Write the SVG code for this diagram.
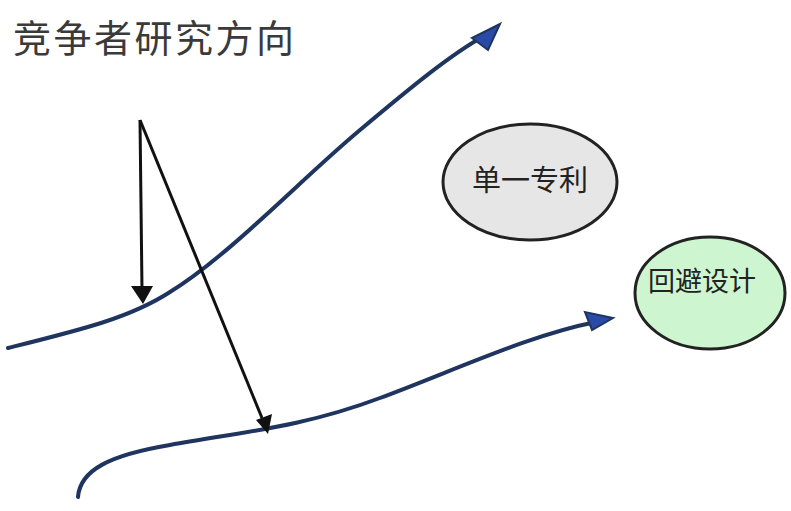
<svg xmlns="http://www.w3.org/2000/svg" width="791" height="511" viewBox="0 0 791 511">
<style>
.t{font-family:"Noto Sans CJK SC","Noto Sans",sans-serif;}
.curve{fill:none;stroke:#1f3560;stroke-width:4;stroke-linecap:round;}
.blk{fill:none;stroke:#111;stroke-width:3;}
.head{fill:#2a4aa8;stroke:#1f3560;stroke-width:2;}
.node{stroke:#222;stroke-width:3;}
</style>
<rect width="791" height="511" fill="#fff"/>
<text class="t" x="13" y="52" font-size="38" fill="#3a3a3a" letter-spacing="2.5">竞争者研究方向</text>
<g id="connectors">
<path class="curve" d="M8,348 C80,330 130,318 170,292 C230,255 300,180 360,130 C410,88 450,55 484,36"/>
<polygon class="head" points="500,24 472,38 488,50"/>
<path class="curve" d="M78,497 C80,470 110,455 170,445 C240,432 300,428 380,398 C460,368 530,335 596,322"/>
<polygon class="head" points="613,318 585,312 592,330"/>
<path class="blk" d="M140,120 L142,290"/>
<polygon points="131,286 153,286 143,304" fill="#111"/>
<path class="blk" d="M140,120 L262,418"/>
<polygon points="256,420 272,414 268,434" fill="#111"/>
</g>
<g id="node-patent">
<ellipse class="node" cx="530" cy="182" rx="87" ry="58" fill="#e6e6e6"/>
<text class="t" x="530" y="191" font-size="29" text-anchor="middle" fill="#222">单一专利</text>
</g>
<g id="node-design">
<ellipse class="node" cx="710" cy="293" rx="75" ry="56" fill="#cdf5cf"/>
<text class="t" x="702" y="291" font-size="27" text-anchor="middle" fill="#222">回避设计</text>
</g>
</svg>
